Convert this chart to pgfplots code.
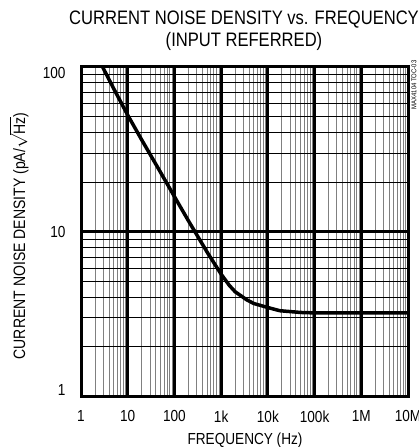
\documentclass[border=0pt]{standalone}
\usepackage{fontspec}
\setmainfont{Liberation Sans}[FakeStretch=0.85]
\usepackage{pgfplots}
\pgfplotsset{compat=1.18}

\begin{document}
\begin{tikzpicture}
\useasboundingbox (0pt,0pt) rectangle (418pt,447pt);

% titles and labels
\node[anchor=base,font=\fontsize{19.5}{19.5}\selectfont] at (244pt,422pt) {CURRENT NOISE DENSITY vs. FREQUENCY};
\node[anchor=base,font=\fontsize{19.5}{19.5}\selectfont] at (244pt,400pt) {(INPUT REFERRED)};
\node[anchor=base,font=\fontsize{16}{16}\selectfont] at (245pt,2pt) {FREQUENCY (Hz)};
\node[rotate=90,font=\fontsize{16.5}{16.5}\selectfont] at (19pt,211pt) {CURRENT NOISE DENSITY (pA/$\sqrt{\mbox{Hz}}$)};
\node[rotate=90,anchor=east,font=\fontsize{7}{7}\selectfont] at (414pt,390pt) {MAX4104 TOC-03};

\begin{axis}[
    at={(81pt,51pt)}, anchor=south west,
    scale only axis,
    width=327pt, height=329pt,
    xmode=log, ymode=log,
    xmin=1, xmax=1e7, ymin=1, ymax=100,
    xtick={1,10,100,1000,10000,100000,1000000,10000000},
    xticklabels={1,10,100,1k,10k,100k,1M,10M},
    ytick={1,10,100},
    yticklabels={\raisebox{6pt}[\height][\depth]{1},10,\raisebox{-6pt}[\height][\depth]{100}},
    minor xtick={2,3,4,5,6,7,8,9,20,30,40,50,60,70,80,90,200,300,400,500,600,700,800,900,2000,3000,4000,5000,6000,7000,8000,9000,20000,30000,40000,50000,60000,70000,80000,90000,200000,300000,400000,500000,600000,700000,800000,900000,2000000,3000000,4000000,5000000,6000000,7000000,8000000,9000000},
    minor ytick={2,3,4,5,6,7,8,9,20,30,40,50,60,70,80,90},
    major tick length=0pt, minor tick length=0pt,
    grid=both,
    major x grid style={black, line width=2.8pt},
    major y grid style={black, line width=2.2pt},
    minor x grid style={black!50, line width=1pt},
    minor y grid style={black, line width=0.9pt},
    axis line style={line width=3pt},
    tick label style={font=\fontsize{16}{16}\selectfont},
    xticklabel style={yshift=-11pt},
    yticklabel style={xshift=-12pt},
]
\addplot[black, line width=3.5pt, line join=round] coordinates {
  (2.9,100) (5,74) (10,51) (20,36) (50,23) (100,16.3) (200,11.6) (500,7.5)
  (1000,5.5) (1500,4.7) (2000,4.3) (3500,3.85) (5000,3.65) (10000,3.45)
  (18000,3.3) (50000,3.22) (100000,3.2) (1000000,3.2) (10000000,3.2)
};
\end{axis}
\end{tikzpicture}
\end{document}
